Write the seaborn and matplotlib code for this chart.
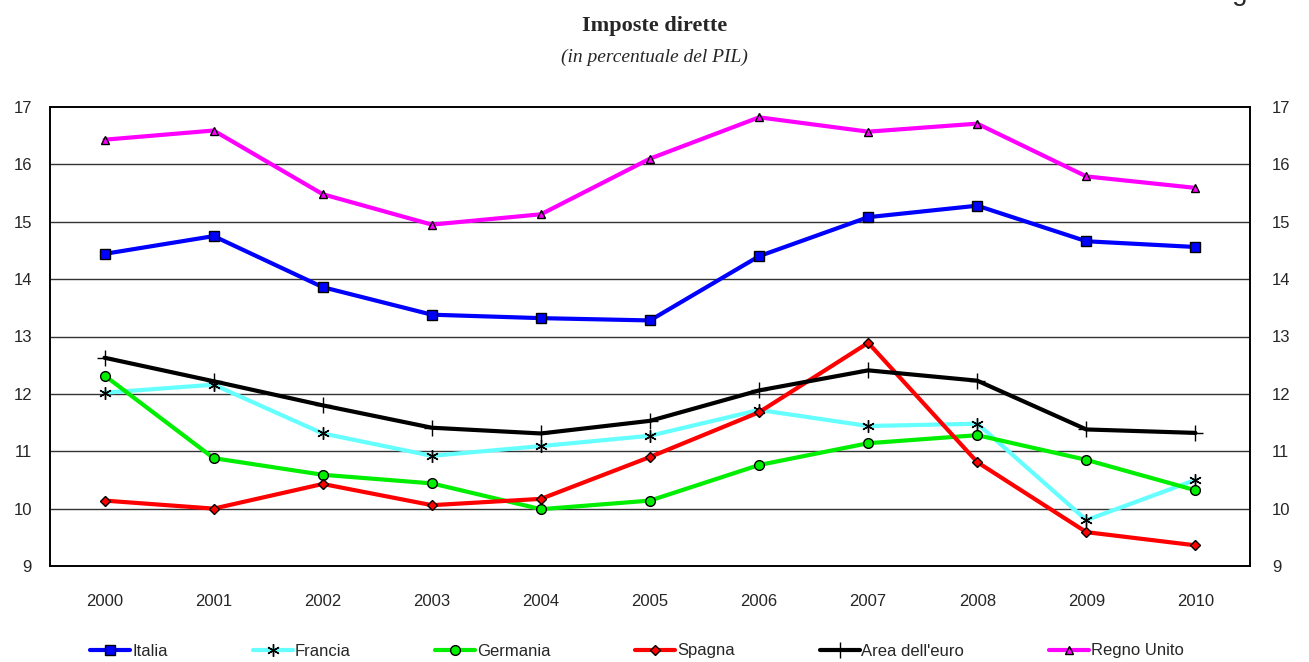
import matplotlib
matplotlib.use("Agg")
import matplotlib.pyplot as plt
import numpy as np
import pandas as pd
import seaborn as sns

years = [2000, 2001, 2002, 2003, 2004, 2005, 2006, 2007, 2008, 2009, 2010]
italia = [14.44, 14.75, 13.86, 13.38, 13.32, 13.28, 14.40, 15.08, 15.28, 14.66, 14.56]
francia = [12.02, 12.16, 11.31, 10.92, 11.09, 11.27, 11.72, 11.44, 11.48, 9.80, 10.50]
germania = [12.32, 10.88, 10.59, 10.44, 9.99, 10.14, 10.76, 11.14, 11.28, 10.85, 10.32]
spagna = [10.14, 10.00, 10.43, 10.06, 10.17, 10.90, 11.68, 12.89, 10.81, 9.59, 9.36]
area_euro = [12.63, 12.22, 11.80, 11.41, 11.31, 11.53, 12.06, 12.41, 12.23, 11.38, 11.32]
regno_unito = [16.43, 16.59, 15.48, 14.95, 15.13, 16.10, 16.82, 16.57, 16.71, 15.79, 15.59]

series = [
    ("Italia", italia, "#0000FF", "s", 7),
    ("Francia", francia, "#66FFFF", (6, 2, 0), 9),
    ("Germania", germania, "#00EE00", "o", 7),
    ("Spagna", spagna, "#FF0000", "D", 5.5),
    ("Area dell'euro", area_euro, "#000000", "+", 12),
    ("Regno Unito", regno_unito, "#FF00FF", "^", 5.5),
]

sns.set_style("white")
plt.rcParams["font.family"] = ["Liberation Sans", "DejaVu Sans"]

fig = plt.figure(figsize=(13.09, 6.62), dpi=100)
ax = fig.add_axes([50 / 1309, 96 / 662, 1200 / 1309, 459 / 662])

df = pd.DataFrame({"anno": years})
for name, vals, col, mk, ms in series:
    df[name] = vals
    sns.lineplot(x="anno", y=name, data=df, ax=ax, color=col, lw=3,
                 marker=mk, markersize=ms, markeredgecolor="black",
                 markeredgewidth=1.0, label=name, legend=False)

ax.set_xlim(1999.5, 2010.5)
ax.set_ylim(9, 17)
ax.set_xlabel("")
ax.set_ylabel("")
ax.set_xticks(years)
ax.set_xticklabels([str(y) for y in years], fontsize=12)
ax.set_xticks(np.arange(1999.5, 2010.6, 1), minor=True)
ax.tick_params(axis="x", which="major", length=0, pad=20)
ax.tick_params(axis="x", which="minor", length=6, width=1, color="black", direction="out")
ax.set_yticks(range(9, 18))
ax.tick_params(axis="y", which="major", labelsize=12, length=0, pad=13)
for y in range(10, 17):
    ax.axhline(y, color="#333333", lw=1, zorder=0)
for s in ax.spines.values():
    s.set_color("black")
    s.set_linewidth(1.2)

ax2 = ax.twinx()
ax2.set_ylim(9, 17)
ax2.set_yticks(range(9, 18))
ax2.tick_params(axis="y", labelsize=12, length=0, pad=16)
ax2.grid(False)
for s in ax2.spines.values():
    s.set_color("black")
    s.set_linewidth(1.2)

fig.text(0.5, 1 - 26 / 662, "Imposte dirette", ha="center", va="center",
         fontsize=16, fontweight="bold", family=["Liberation Serif", "DejaVu Serif"])
fig.text(0.5, 1 - 57 / 662, "(in percentuale del PIL)", ha="center", va="center",
         fontsize=14, style="italic", family=["Liberation Serif", "DejaVu Serif"])
# intestazione tagliata in alto: resta visibile solo la coda della "g"
fig.text(1210 / 1309, 1.0, "Figura", ha="left", va="baseline", fontsize=20)

handles, labels = ax.get_legend_handles_labels()
fig.legend(handles, labels, loc="center", bbox_to_anchor=(637 / 1309, 11 / 662),
           ncol=6, frameon=False, fontsize=12, handlelength=2.4, handletextpad=0.1,
           columnspacing=5.1)

fig.savefig("out.png", dpi=100)
